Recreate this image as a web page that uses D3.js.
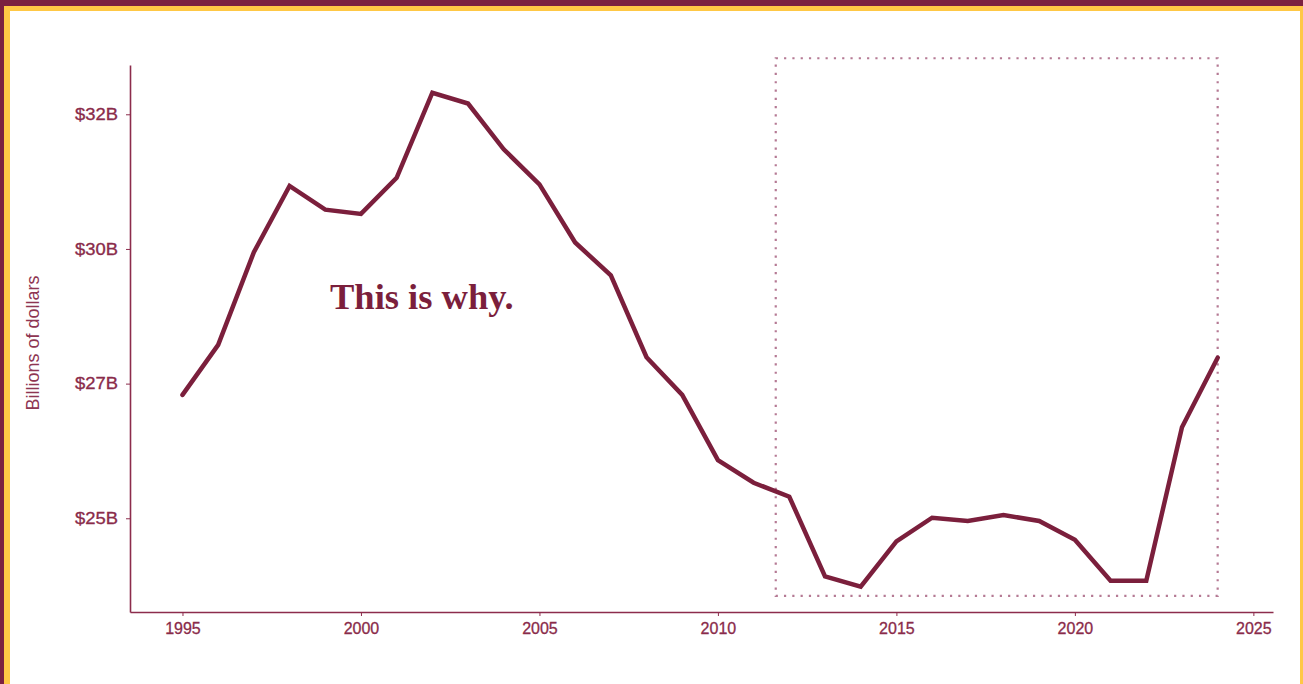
<!DOCTYPE html>
<html><head><meta charset="utf-8">
<script src="https://cdn.jsdelivr.net/npm/d3@7"></script>
<style>html,body{margin:0;padding:0;background:#fff;overflow:hidden}svg{display:block}</style>
</head><body>
<script>
const years = [1995,1996,1997,1998,1999,2000,2001,2002,2003,2004,2005,2006,2007,2008,2009,2010,2011,2012,2013,2014,2015,2016,2017,2018,2019,2020,2021,2022,2023,2024];
const values = [27.29,28.22,29.94,31.17,30.73,30.65,31.32,32.90,32.70,31.85,31.20,30.12,29.51,27.99,27.29,26.08,25.66,25.40,23.92,23.73,24.57,25.01,24.95,25.06,24.95,24.60,23.84,23.84,26.69,27.98];
const yTickValues = [25, 27.5, 30, 32.5];
const yTickLabels = ["$25B", "$27B", "$30B", "$32B"];
const xTickValues = [1995, 2000, 2005, 2010, 2015, 2020, 2025];
const highlightYears = [2011.62, 2024];
const highlightValues = [23.56, 33.54];
const annotation = "This is why.";
const yTitle = "Billions of dollars";

const W = 1303, H = 684;
const svg = d3.select("body").append("svg").attr("width", W).attr("height", H);

// frame
svg.append("rect").attr("x",0).attr("y",0).attr("width",W).attr("height",H).attr("fill","#7b2140");
svg.append("rect").attr("x",4).attr("y",6).attr("width",W).attr("height",H).attr("fill","#ffc845");
svg.append("rect").attr("x",10).attr("y",11).attr("width",1290).attr("height",H).attr("fill","#ffffff");

const x = d3.scaleLinear().domain([1993.53, 2025.55]).range([130, 1273]);
const y = d3.scaleLinear().domain([23.26, 33.415]).range([612, 65]);

const axisColor = "#8c2c4c";
const textColor = "#8a2b4a";

// highlight dotted rect
svg.append("rect")
  .attr("x", x(highlightYears[0])).attr("y", y(highlightValues[1]))
  .attr("width", x(highlightYears[1]) - x(highlightYears[0]))
  .attr("height", y(highlightValues[0]) - y(highlightValues[1]))
  .attr("fill","none").attr("stroke","#b57a94").attr("stroke-width",2.2)
  .attr("stroke-dasharray","2.2,6.1");

// x axis
const gx = svg.append("g").attr("transform","translate(0,612)")
  .call(d3.axisBottom(x).tickValues(xTickValues).tickFormat(d3.format("d")).tickSize(4).tickSizeOuter(0));
gx.select(".domain").attr("stroke", axisColor).attr("stroke-width",1.6);
gx.selectAll(".tick line").attr("stroke", axisColor).attr("stroke-width",1);
gx.selectAll(".tick text").attr("fill", textColor).attr("font-family","'Liberation Sans', Arial, sans-serif")
  .attr("font-size",16).attr("dy","0.72em").attr("y",10).attr("stroke",textColor).attr("stroke-width",0.3);

// y axis
const gy = svg.append("g").attr("transform","translate(130,0)")
  .call(d3.axisLeft(y).tickValues(yTickValues).tickFormat((d,i)=>yTickLabels[i]).tickSize(4).tickSizeOuter(0));
gy.select(".domain").attr("stroke", axisColor).attr("stroke-width",1.6);
gy.selectAll(".tick line").attr("stroke", axisColor).attr("stroke-width",1);
gy.selectAll(".tick text").attr("fill", textColor).attr("font-family","'Liberation Sans', Arial, sans-serif")
  .attr("font-size",16).attr("x",-12).attr("textLength",43).attr("lengthAdjust","spacingAndGlyphs")
  .attr("stroke",textColor).attr("stroke-width",0.3);

// y title
svg.append("text").attr("transform","translate(39,343) rotate(-90)")
  .attr("text-anchor","middle").attr("fill","#8e3552")
  .attr("font-family","'Liberation Sans', Arial, sans-serif").attr("font-size",18)
  .text(yTitle);

// line
const data = years.map((yr,i)=>({yr, v: values[i]}));
svg.append("path").datum(data)
  .attr("fill","none").attr("stroke","#7b1f3c").attr("stroke-width",4.5)
  .attr("stroke-linejoin","miter").attr("stroke-linecap","round")
  .attr("d", d3.line().x(d=>x(d.yr)).y(d=>y(d.v)));

// annotation
svg.append("text").attr("x",330).attr("y",309)
  .attr("fill","#7b1f3c").attr("font-family","'Liberation Serif', 'Times New Roman', serif")
  .attr("font-weight","bold").attr("font-size",36.5).text(annotation);
</script>
</body></html>
